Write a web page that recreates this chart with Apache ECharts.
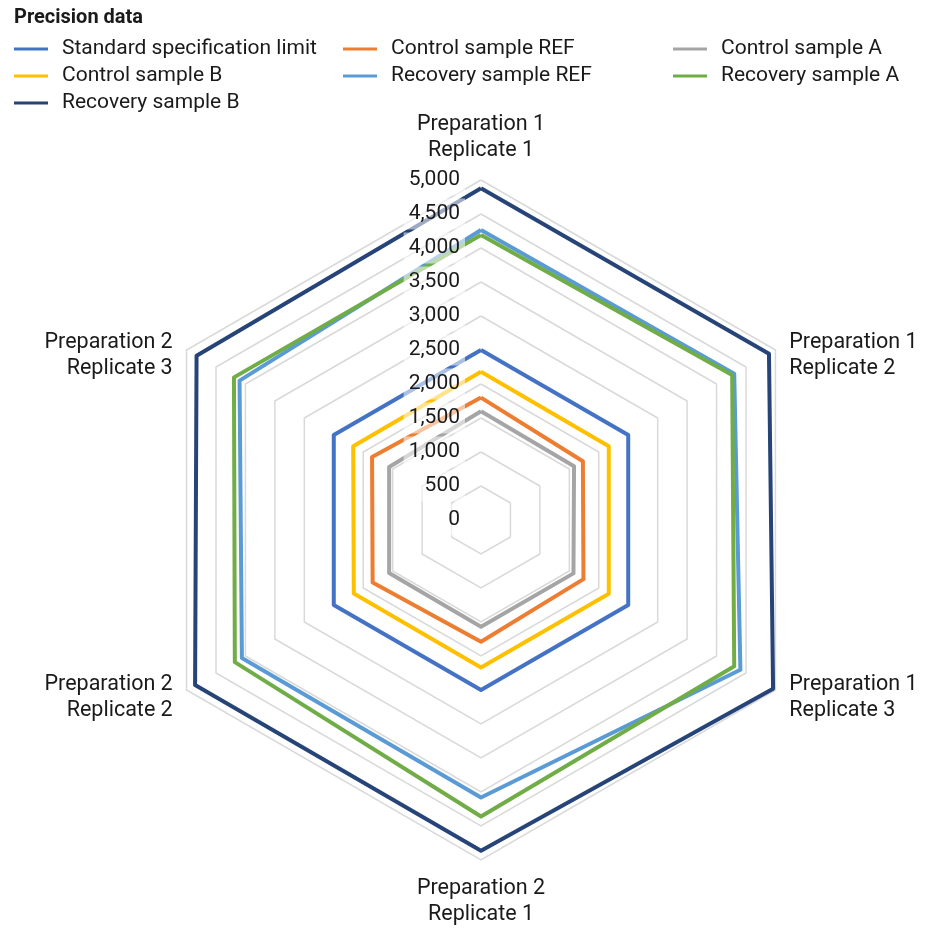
<!DOCTYPE html>
<html>
<head>
<meta charset="utf-8">
<script src="https://cdn.jsdelivr.net/npm/echarts@6/dist/echarts.min.js"></script>
<style>
  html, body { margin: 0; padding: 0; background: #fff; }
  #chart { width: 927px; height: 928px; }
</style>
</head>
<body>
<div id="chart"></div>
<script>
// Axes, in clockwise order from the top
const axisNames = [
  'Preparation 1\nReplicate 1',
  'Preparation 1\nReplicate 2',
  'Preparation 1\nReplicate 3',
  'Preparation 2\nReplicate 1',
  'Preparation 2\nReplicate 2',
  'Preparation 2\nReplicate 3'
];
const axisMax = 5000;
const tickStep = 500;

const seriesNames = [
  'Standard specification limit',
  'Control sample REF',
  'Control sample A',
  'Control sample B',
  'Recovery sample REF',
  'Recovery sample A',
  'Recovery sample B'
];
const seriesColors = ['#4472C4', '#ED7D31', '#A5A5A5', '#FFC000', '#5B9BD5', '#70AD47', '#264478'];

const standardLimit   = [2500, 2500, 2500, 2500, 2500, 2500];
const controlRef      = [1800, 1730, 1740, 1790, 1840, 1850];
const controlA        = [1600, 1580, 1570, 1570, 1560, 1560];
const controlB        = [2180, 2170, 2170, 2170, 2160, 2170];
const recoveryRef     = [4265, 4300, 4405, 4080, 4060, 4100];
const recoveryA       = [4190, 4265, 4300, 4360, 4180, 4195];
const recoveryB       = [4880, 4890, 4960, 4865, 4855, 4830];

const seriesValues = [standardLimit, controlRef, controlA, controlB, recoveryRef, recoveryA, recoveryB];

// ECharts lays radar axes out counter-clockwise, so walk the list backwards
// after the first axis to get a clockwise arrangement.
const order = [0, 5, 4, 3, 2, 1];

const center = [481, 520];
const radius = 340;

const chart = echarts.init(document.getElementById('chart'), null, { renderer: 'canvas' });

const indicatorGrid = order.map(i => ({ name: axisNames[i], min: 0, max: axisMax }));
const indicatorLabels = order.map((i, k) => ({
  name: '', min: 0, max: axisMax,
  axisLabel: { show: k === 0 }
}));

// The two upper side names sit a little below their corner: prepend a spacer line.
function formatAxisName(name) {
  const lines = name.split('\n').map(t => '{n|' + t + '}');
  const shiftDown = name === axisNames[1] || name === axisNames[5];
  return (shiftDown ? ['{s|}'] : []).concat(lines).join('\n');
}

const option = {
  animation: false,
  backgroundColor: '#ffffff',
  title: {
    text: 'Precision data',
    left: 9, top: 3,
    textStyle: { fontFamily: 'Roboto', fontSize: 20, fontWeight: 'bold', color: '#1a1a1a' }
  },
  legend: [
    { data: [seriesNames[0], seriesNames[3], seriesNames[6]], left: 9, top: 33 },
    { data: [seriesNames[1], seriesNames[4]], left: 338, top: 33 },
    { data: [seriesNames[2], seriesNames[5]], left: 668, top: 33 }
  ].map(l => Object.assign({
    orient: 'vertical',
    icon: 'rect',
    itemWidth: 34,
    itemHeight: 3,
    itemGap: 5,
    textStyle: { fontFamily: 'Roboto', fontSize: 21, color: '#1a1a1a', lineHeight: 22, padding: [0, 0, 0, 9] }
  }, l)),
  radar: [
    {
      center: center,
      radius: radius,
      startAngle: 90,
      splitNumber: axisMax / tickStep,
      shape: 'polygon',
      indicator: indicatorGrid,
      axisName: {
        color: '#1a1a1a', fontFamily: 'Roboto', fontSize: 21.5, lineHeight: 26,
        formatter: formatAxisName,
        rich: {
          n: { color: '#1a1a1a', fontFamily: 'Roboto', fontSize: 21.5, lineHeight: 26 },
          s: { fontSize: 10, lineHeight: 28 }
        }
      },
      nameGap: 16,
      axisLine: { show: false },
      axisTick: { show: false },
      axisLabel: { show: false },
      splitArea: { show: false },
      splitLine: { lineStyle: { color: '#d9d9d9', width: 1.5 } }
    },
    {
      center: center,
      radius: radius,
      startAngle: 90,
      splitNumber: axisMax / tickStep,
      shape: 'polygon',
      z: 10,
      indicator: indicatorLabels,
      axisName: { show: false },
      axisLine: { show: false },
      axisTick: { show: false },
      splitArea: { show: false },
      splitLine: { show: false },
      axisLabel: {
        show: false,
        margin: 16,
        fontFamily: 'Roboto',
        fontSize: 21,
        color: '#1a1a1a',
        backgroundColor: 'rgba(255,255,255,0.55)',
        padding: [5, 5, 5, 5],
        formatter: v => Number(v).toLocaleString('en-US')
      }
    }
  ],
  series: seriesNames.map((name, s) => ({
    type: 'radar',
    name: name,
    radarIndex: 0,
    symbol: 'none',
    color: seriesColors[s],
    lineStyle: { width: 4, color: seriesColors[s] },
    data: [{ name: name, value: order.map(i => seriesValues[s][i]) }]
  }))
};

chart.setOption(option);
</script>
</body>
</html>
